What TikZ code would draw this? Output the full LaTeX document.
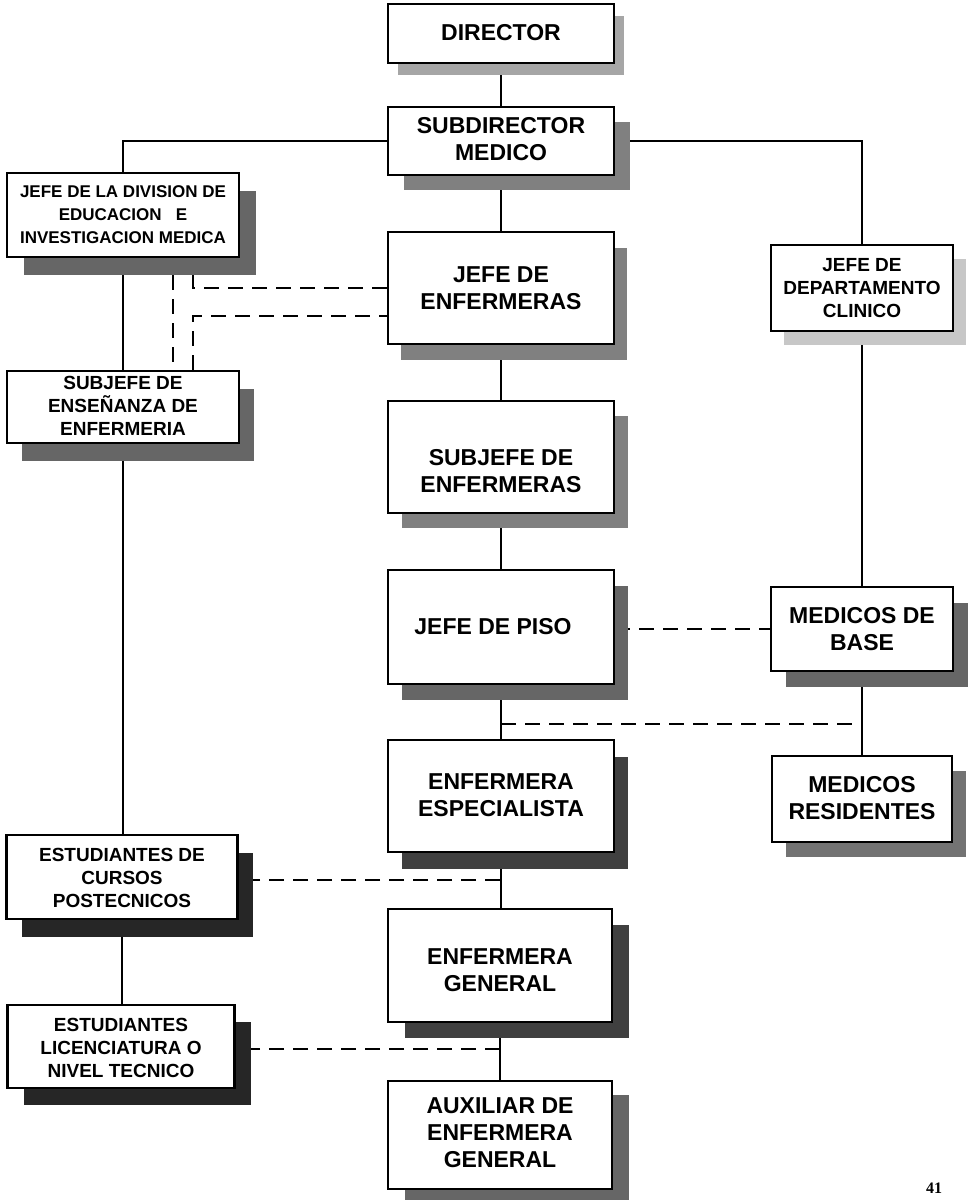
\documentclass[tikz,border=0pt]{standalone}
\usepackage{fontspec}
\setmainfont{Liberation Sans}
\newfontfamily\numfont{Liberation Serif}
\usetikzlibrary{shadows,calc}
\pgfdeclarelayer{bg}
\pgfsetlayers{bg,main}
\tikzset{
 obox/.style={draw=black, line width=2.5pt, fill=white, rectangle, inner sep=0pt},
 big/.style={font=\fontsize{23}{27}\selectfont\bfseries, align=center, inner sep=0pt},
 mid/.style={font=\fontsize{19}{23}\selectfont\bfseries, align=center, inner sep=0pt},
 sml/.style={font=\fontsize{17}{23}\selectfont\bfseries, align=center, inner sep=0pt},
 link/.style={line width=1.4pt},
 dline/.style={line width=1.4pt, dash pattern=on 15pt off 9pt},
 shd/.style n args={3}{drop shadow={shadow xshift=#1pt, shadow yshift=-#2pt, fill=black!#3, opacity=1}},
}
\begin{document}
\begin{tikzpicture}[x=1pt,y=-1pt]
\useasboundingbox (0,0) rectangle (967,1200);
% boxes
\node[obox, minimum width=226pt, minimum height=59pt, shd={10}{12}{35}] (dir) at (501,33.5) {};
\node[obox, minimum width=226pt, minimum height=68pt, shd={16}{15}{50}] (sub) at (501,141) {};
\node[obox, minimum width=232pt, minimum height=84pt, shd={17}{18}{60}] (div) at (123,215) {};
\node[obox, minimum width=226pt, minimum height=112pt, shd={13}{16}{50}] (jenf) at (501,288) {};
\node[obox, minimum width=182pt, minimum height=86pt, shd={13}{14}{22}] (depto) at (862,288) {};
\node[obox, minimum width=232pt, minimum height=72pt, shd={15}{18}{60}] (ens) at (123,407) {};
\node[obox, minimum width=226pt, minimum height=112pt, shd={14}{15}{50}] (sjenf) at (501,457) {};
\node[obox, minimum width=226pt, minimum height=114pt, shd={14}{16}{60}] (piso) at (501,627) {};
\node[obox, minimum width=182pt, minimum height=84pt, shd={15}{16}{60}] (mbase) at (862,629) {};
\node[obox, minimum width=226pt, minimum height=112pt, shd={14}{17}{75}] (esp) at (501,796) {};
\node[obox, minimum width=180pt, minimum height=86pt, shd={14}{15}{55}] (mres) at (862,799) {};
\node[obox, minimum width=231pt, minimum height=84pt, shd={15}{18}{85}] (cur) at (122,877) {};
\node[obox, minimum width=224pt, minimum height=113pt, shd={17}{16}{75}] (gen) at (500,965.5) {};
\node[obox, minimum width=227pt, minimum height=83pt, shd={16}{17}{85}] (lic) at (121,1046.5) {};
\node[obox, minimum width=224pt, minimum height=108pt, shd={17}{14}{60}] (aux) at (500,1135) {};
% texts
\node[big] (dir-t) at (501,33) {DIRECTOR};
\node[big] (sub-t) at (501,139) {SUBDIRECTOR\\MEDICO};
\node[sml] (div-t) at (123,215) {JEFE DE LA DIVISION DE\\EDUCACION\ \ \ E\\INVESTIGACION MEDICA};
\node[big] (jenf-t) at (501,288) {JEFE DE\\ENFERMERAS};
\node[mid] (depto-t) at (862,288) {JEFE DE\\DEPARTAMENTO\\CLINICO};
\node[mid] (ens-t) at (123,406) {SUBJEFE DE\\ENSEÑANZA DE\\ENFERMERIA};
\node[big] (sjenf-t) at (501,471) {SUBJEFE DE\\ENFERMERAS};
\node[big] (piso-t) at (493,627) {JEFE DE PISO};
\node[big] (mbase-t) at (862,629) {MEDICOS DE\\BASE};
\node[big] (esp-t) at (501,795) {ENFERMERA\\ESPECIALISTA};
\node[big] (mres-t) at (862,798) {MEDICOS\\RESIDENTES};
\node[mid] (cur-t) at (122,878) {ESTUDIANTES DE\\CURSOS\\POSTECNICOS};
\node[big] (gen-t) at (500,970) {ENFERMERA\\GENERAL};
\node[mid] (lic-t) at (121,1048) {ESTUDIANTES\\LICENCIATURA O\\NIVEL TECNICO};
\node[big] (aux-t) at (500,1133) {AUXILIAR DE\\ENFERMERA\\GENERAL};
\node[font=\fontsize{16}{16}\selectfont\bfseries\numfont] (pg) at (934,1188) {41};
% connectors
\begin{pgfonlayer}{bg}
\fill[white] (0,0) rectangle (967,1200);
\draw[link] (dir.south) -- (sub.north);
\draw[link] (sub.west) -| (div.north);
\draw[link] (sub.east) -| (depto.north);
\draw[link] (sub.south) -- (jenf.north);
\draw[link] (jenf.south) -- (sjenf.north);
\draw[link] (sjenf.south) -- (piso.north);
\draw[link] (piso.south) -- (esp.north);
\draw[link] (esp.south) -- (esp.south |- gen.north);
\draw[link] (gen.south) -- (aux.north);
\draw[link] (div.south) -- (ens.north);
\draw[link] (ens.south) -- (ens.south |- cur.north);
\draw[link] (cur.south) -- (cur.south |- lic.north);
\draw[link] (depto.south) -- (mbase.north);
\draw[link] (mbase.south) -- (mres.north);
\coordinate (da) at (173,275);
\coordinate (db) at (193,275);
\draw[dline] (da) -- (da |- ens.north);
\draw[dline] (db) |- (jenf.west);
\draw[dline] (db |- ens.north) |- ([yshift=-28pt]jenf.west);
\draw[dline] (piso.east |- mbase.west) -- (mbase.west);
\coordinate (j1) at (501,724);
\draw[dline] (j1) -- (j1 -| mres.north);
\coordinate (j2) at (500,880);
\draw[dline] (j2) -- (j2 -| cur.east);
\coordinate (j3) at (500,1049);
\draw[dline] (j3) -- (j3 -| lic.east);
\end{pgfonlayer}
\end{tikzpicture}
\end{document}
